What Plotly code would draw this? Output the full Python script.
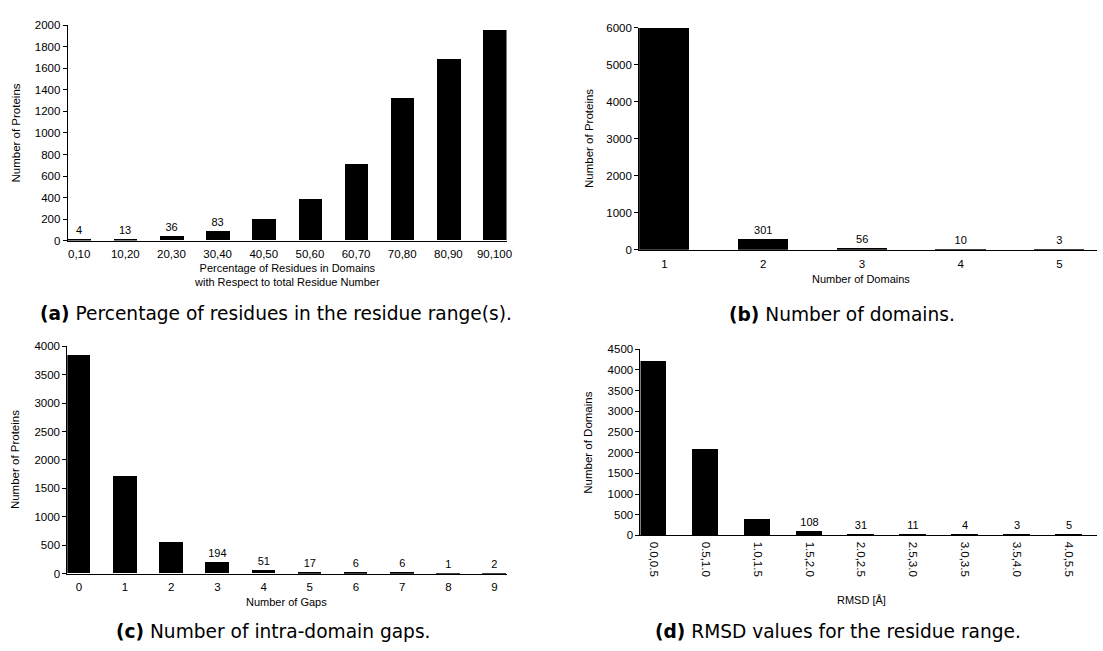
import plotly.graph_objects as go

W, H = 1103, 651

# Panel (a): share of residues inside domains
pct_bins = ["0,10", "10,20", "20,30", "30,40", "40,50", "50,60", "60,70", "70,80", "80,90", "90,100"]
pct_counts = [4, 13, 36, 83, 201, 384, 706, 1325, 1688, 1955]
pct_shown = [0, 1, 2, 3]

# Panel (b): domains per protein
dom_bins = ["1", "2", "3", "4", "5"]
dom_counts = [6000, 301, 56, 10, 3]
dom_shown = [1, 2, 3, 4]

# Panel (c): intra-domain gaps
gap_bins = ["0", "1", "2", "3", "4", "5", "6", "7", "8", "9"]
gap_counts = [3837, 1714, 547, 194, 51, 17, 6, 6, 1, 2]
gap_shown = [3, 4, 5, 6, 7, 8, 9]

# Panel (d): RMSD of the residue range
rmsd_bins = ["0.0,0.5", "0.5,1.0", "1.0,1.5", "1.5,2.0", "2.0,2.5", "2.5,3.0", "3.0,3.5", "3.5,4.0", "4.0,5.5"]
rmsd_counts = [4222, 2071, 387, 108, 31, 11, 4, 3, 5]
rmsd_shown = [3, 4, 5, 6, 7, 8]

FONT = "Liberation Sans, Arial, Helvetica, sans-serif"
CAP_FONT = "DejaVu Sans, sans-serif"
TICK_SIZE = 11.5
CAP_SIZE = 18.6


def px_x(p):
    return p / W


def px_y(p):
    return 1 - p / H


def value_text(values, shown):
    return [str(v) if i in shown else "" for i, v in enumerate(values)]


fig = go.Figure()

panels = [
    # (suffix, cats, values, shown, x px domain, y px top/bottom, x range, y max, dtick, tickangle)
    ("", pct_bins, pct_counts, pct_shown, (68, 509.3), (19.7, 239), (-0.25, 9.26), 2000, 200, 0),
    ("2", dom_bins, dom_counts, dom_shown, (642.7, 1103), (22.3, 248.3), (-0.255, 4.38), 6000, 1000, 0),
    ("3", gap_bins, gap_counts, gap_shown, (67.7, 509.3), (346.7, 578.3), (-0.25, 9.26), 4000, 500, 0),
    ("4", rmsd_bins, rmsd_counts, rmsd_shown, (644, 1103), (349.7, 539.3), (-0.25, 8.54), 4500, 500, 90),
]

label_font = dict(family=FONT, size=11, color="#000000")

layout_axes = {}
for suf, cats, vals, shown, (x0, x1), (ytop, ybot), xr, ymax, dt, ang in panels:
    fig.add_trace(go.Bar(
        x=cats, y=vals, width=0.51,
        marker=dict(color="black", line=dict(width=0)),
        text=value_text(vals, shown), textposition="outside",
        textfont=label_font, outsidetextfont=label_font,
        constraintext="none", cliponaxis=False,
        xaxis="x" + suf, yaxis="y" + suf, showlegend=False,
    ))
    layout_axes["xaxis" + suf] = dict(
        domain=[px_x(x0), px_x(x1)], anchor="y" + suf, type="category",
        range=list(xr), showline=True, linecolor="black", linewidth=1,
        ticks="outside", ticklen=3, tickcolor="rgba(0,0,0,0)",
        tickangle=ang, showgrid=False, zeroline=False,
        tickfont=dict(family=FONT, size=TICK_SIZE, color="black"),
    )
    layout_axes["yaxis" + suf] = dict(
        domain=[px_y(ybot), px_y(ytop)], anchor="x" + suf,
        range=[0, ymax], dtick=dt, showline=True, linecolor="black", linewidth=1,
        ticks="outside", ticklen=4, tickcolor="black", showgrid=False, zeroline=False,
        tickfont=dict(family=FONT, size=TICK_SIZE, color="black"),
    )

fig.update_layout(**layout_axes)

annotations = []


def text_at(x, y, text, size=11, angle=0, family=FONT, anchor="center"):
    annotations.append(dict(
        x=px_x(x), y=px_y(y), xref="paper", yref="paper", text=text,
        showarrow=False, textangle=angle, xanchor=anchor, yanchor="middle",
        font=dict(family=family, size=size, color="black"),
    ))


# axis titles
text_at(16, 129, "Number of Proteins", size=11.5, angle=-90)
text_at(288.5, 274, "Percentage of Residues in Domains<br>with Respect to total Residue Number")
text_at(591.7, 135, "Number of Proteins", size=11.5, angle=-90)
text_at(866, 277.7, "Number of Domains")
text_at(15.7, 462, "Number of Proteins", size=11.5, angle=-90)
text_at(288.3, 607.7, "Number of Gaps")
text_at(591.7, 444.5, "Number of Domains", size=11.5, angle=-90)
text_at(866.7, 605.3, "RMSD [Å]")

# sub-figure captions
text_at(38, 313.5, "<b>(a)</b> Percentage of residues in the residue range(s).", size=CAP_SIZE, family=CAP_FONT, anchor="left")
text_at(731, 314, "<b>(b)</b> Number of domains.", size=CAP_SIZE, family=CAP_FONT, anchor="left")
text_at(115, 637, "<b>(c)</b> Number of intra-domain gaps.", size=CAP_SIZE, family=CAP_FONT, anchor="left")
text_at(657, 637, "<b>(d)</b> RMSD values for the residue range.", size=CAP_SIZE, family=CAP_FONT, anchor="left")

fig.update_layout(
    width=W, height=H, margin=dict(l=0, r=0, t=0, b=0),
    paper_bgcolor="white", plot_bgcolor="white",
    annotations=annotations, bargap=0,
)

fig.write_html("out.html")
